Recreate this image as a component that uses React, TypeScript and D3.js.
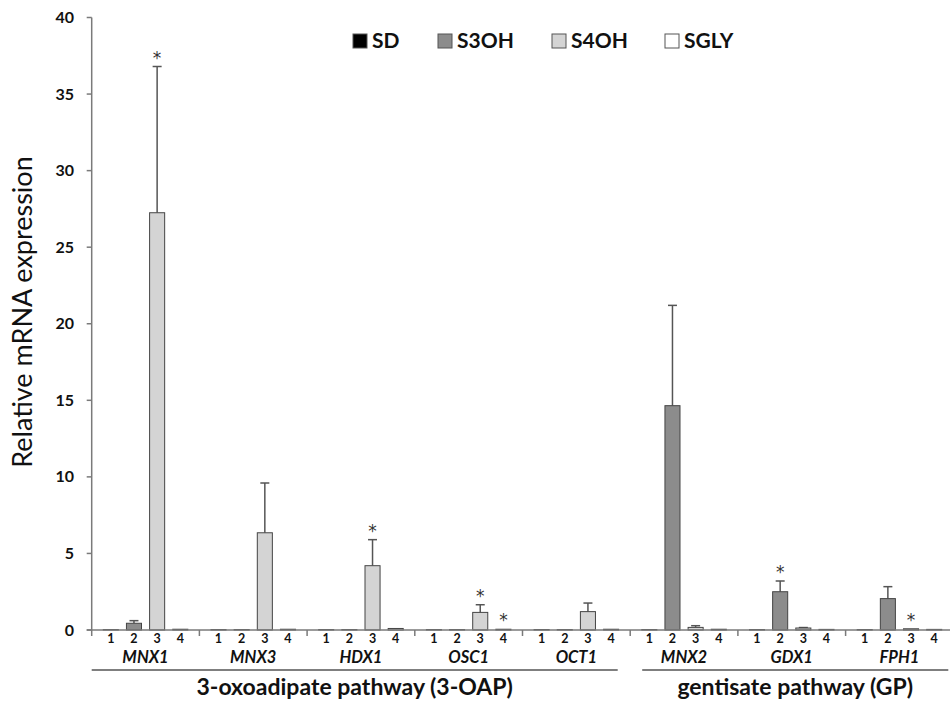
import React from 'react';
import * as d3 from 'd3';

// genes (x categories) and the 4 culture conditions
const genes = ['MNX1', 'MNX3', 'HDX1', 'OSC1', 'OCT1', 'MNX2', 'GDX1', 'FPH1'];
const conditions = ['SD', 'S3OH', 'S4OH', 'SGLY'];
const conditionNums = ['1', '2', '3', '4'];

// mean relative expression per gene
const sdValues = [0.03, 0.03, 0.03, 0.03, 0.03, 0.03, 0.03, 0.03];
const s3ohValues = [0.44, 0.03, 0.03, 0.03, 0.03, 14.65, 2.5, 2.05];
const s4ohValues = [27.25, 6.35, 4.2, 1.15, 1.2, 0.17, 0.13, 0.08];
const sglyValues = [0.05, 0.05, 0.1, 0.05, 0.05, 0.05, 0.04, 0.04];

// upper error (SD)
const sdErrors = [0, 0, 0, 0, 0, 0, 0, 0];
const s3ohErrors = [0.17, 0, 0, 0, 0, 6.55, 0.7, 0.78];
const s4ohErrors = [9.55, 3.25, 1.7, 0.5, 0.56, 0.11, 0.03, 0];
const sglyErrors = [0, 0, 0, 0, 0, 0, 0, 0];

// significance marks
const sdStars = [false, false, false, false, false, false, false, false];
const s3ohStars = [false, false, false, false, false, false, true, false];
const s4ohStars = [true, false, true, true, false, false, false, true];
const sglyStars = [false, false, false, true, false, false, false, false];

const pathwayNames = ['3-oxoadipate pathway (3-OAP)', 'gentisate pathway (GP)'];
const pathwayGenes = [
  ['MNX1', 'MNX3', 'HDX1', 'OSC1', 'OCT1'],
  ['MNX2', 'GDX1', 'FPH1'],
];

const yTicks = [0, 5, 10, 15, 20, 25, 30, 35, 40];

const colors = ['#000000', '#8c8c8c', '#d4d4d4', '#ffffff'];
const legendX = [353, 438, 552, 665];

const font = 'Lato, "Open Sans", sans-serif';

const App = () => {
  const width = 950;
  const height = 703;
  const margin = { left: 91.7, top: 17.5, baseline: 630 };
  const groupW = 107.7;

  const values = [sdValues, s3ohValues, s4ohValues, sglyValues];
  const errors = [sdErrors, s3ohErrors, s4ohErrors, sglyErrors];
  const stars = [sdStars, s3ohStars, s4ohStars, sglyStars];

  const x0 = d3.scaleBand()
    .domain(genes)
    .range([margin.left, margin.left + groupW * genes.length])
    .paddingInner(0)
    .paddingOuter(0);

  const x1 = d3.scaleBand()
    .domain(conditions)
    .range([0, x0.bandwidth()])
    .paddingInner(0.35)
    .paddingOuter(0.5);

  const y = d3.scaleLinear()
    .domain([0, 40])
    .range([margin.baseline, margin.top]);

  const axisColor = '#7a7a7a';

  return (
    <svg width={width} height={height} style={{ position: 'fixed', left: 0, top: 0, background: '#fff' }}
      fontFamily={font}>
      {/* y axis title */}
      <text transform={`translate(32, ${312}) rotate(-90)`} textAnchor="middle" fontSize={27} fill="#111">
        Relative mRNA expression
      </text>

      {/* y axis */}
      <line x1={margin.left} x2={margin.left} y1={y(40)} y2={y(0)} stroke={axisColor} strokeWidth={1.5} />
      {yTicks.map(t => (
        <g key={t}>
          <line x1={margin.left - 5} x2={margin.left} y1={y(t)} y2={y(t)} stroke={axisColor} strokeWidth={1.5} />
          <text x={74} y={y(t)} dy="0.35em" textAnchor="end" fontSize={16} fontWeight="bold" fill="#111">{t}</text>
        </g>
      ))}

      {/* legend */}
      {conditions.map((c, i) => (
        <g key={c}>
          <rect x={legendX[i]} y={34} width={14} height={14} fill={colors[i]} stroke="#555" strokeWidth={1} />
          <text x={legendX[i] + 19} y={48} fontSize={21} fontWeight="bold" fill="#111">{c}</text>
        </g>
      ))}

      {/* bars */}
      {genes.map((g, gi) => (
        <g key={g} transform={`translate(${x0(g)},0)`}>
          {conditions.map((c, ci) => {
            const v = values[ci][gi];
            const e = errors[ci][gi];
            const bx = x1(c) as number;
            const cx = bx + x1.bandwidth() / 2;
            const top = y(v + e);
            return (
              <g key={c}>
                {e > 0.02 && (
                  <g stroke="#555" strokeWidth={1.5}>
                    <line x1={cx} x2={cx} y1={y(v)} y2={top} />
                    <line x1={cx - 4.5} x2={cx + 4.5} y1={top} y2={top} />
                  </g>
                )}
                <rect x={bx} y={y(v)} width={x1.bandwidth()} height={y(0) - y(v)}
                  fill={colors[ci]} stroke="#444" strokeWidth={1} />
                {stars[ci][gi] && (
                  <text x={cx} y={top - 3} textAnchor="middle" fontSize={17} fill="#333"
                    fontFamily="DejaVu Sans, sans-serif">*</text>
                )}
                <text x={cx} y={643} textAnchor="middle" fontSize={12.5} fontWeight="bold" fill="#111">
                  {conditionNums[ci]}
                </text>
              </g>
            );
          })}
          <text x={x0.bandwidth() / 2} y={663} textAnchor="middle" fontSize={16.5} fontWeight="bold"
            fontStyle="italic" fill="#111">{g}</text>
        </g>
      ))}

      {/* x axis */}
      <line x1={margin.left - 5} x2={width} y1={y(0)} y2={y(0)} stroke={axisColor} strokeWidth={1.5} />
      {genes.map(g => (
        <line key={g} x1={x0(g)} x2={x0(g)} y1={y(0)} y2={y(0) + 6} stroke={axisColor} strokeWidth={1.5} />
      ))}

      {/* pathway brackets */}
      {pathwayNames.map((p, pi) => {
        const gs = pathwayGenes[pi];
        const start = (x0(gs[0]) as number) + (pi > 0 ? 12 : 0);
        const end = (x0(gs[gs.length - 1]) as number) + x0.bandwidth() - (pi < pathwayNames.length - 1 ? 12.5 : 5);
        return (
          <g key={p}>
            <line x1={start} x2={end} y1={670} y2={670} stroke="#555" strokeWidth={1.5} />
            <text x={(start + end) / 2} y={695} textAnchor="middle" fontSize={23} fontWeight="bold" fill="#111">{p}</text>
          </g>
        );
      })}
    </svg>
  );
};

export default App;
